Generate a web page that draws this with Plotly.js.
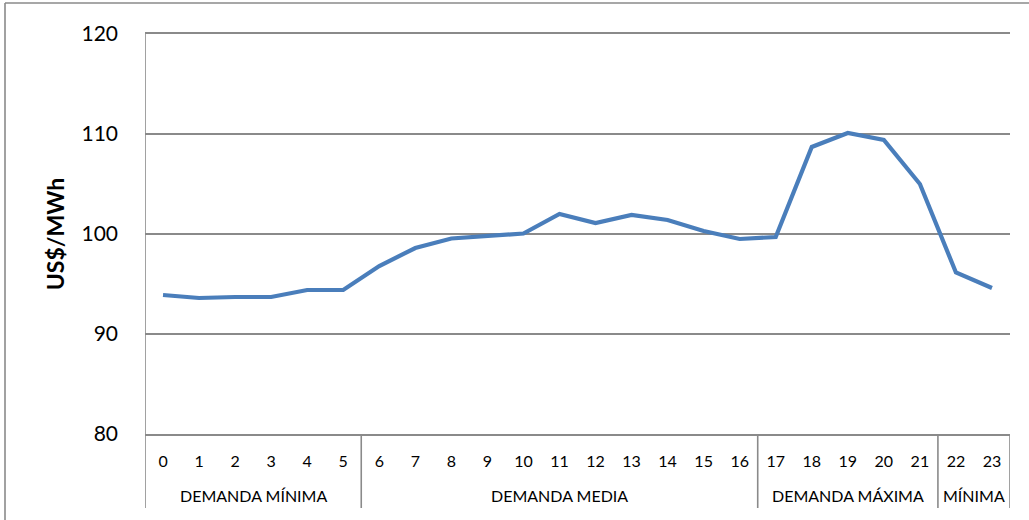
<!DOCTYPE html>
<html><head><meta charset="utf-8">
<script src="https://cdn.plot.ly/plotly-3.0.1.min.js"></script>
<style>body{margin:0;background:#fff}#c{width:1029px;height:520px}</style>
</head><body><div id="c"></div>
<script>
const hours = ["0","1","2","3","4","5","6","7","8","9","10","11","12","13","14","15","16","17","18","19","20","21","22","23"];
const prices = [93.9,93.6,93.7,93.7,94.4,94.4,96.8,98.6,99.55,99.8,100.05,102.0,101.1,101.9,101.4,100.3,99.5,99.7,108.7,110.1,109.4,105.0,96.15,94.6];
const groupNames = ["DEMANDA MÍNIMA","DEMANDA MEDIA","DEMANDA MÁXIMA","MÍNIMA"];
const groupStart = [0,6,17,22];
const groupEnd = [5,16,21,23];
const yTicks = [80,90,100,110,120];

const xs = hours.map((h,i)=>i);
const axisColor = '#8a8a8a';
const lw = 1.6;
const font = 'Lato, "Open Sans", sans-serif';
const PW = 865, PH = 400, T = 34, L = 145;

const shapes = [];
const annotations = [];
// vertical divider lines of the category axis
const divs = [-0.5].concat(groupEnd.map(e=>e+0.5));
divs.forEach(d=>{
  shapes.push({type:'line',xref:'x',yref:'paper',x0:d,x1:d,y0:-74/PH,y1:(d===-0.5?1:0),line:{color:axisColor,width:lw}});
});
groupNames.forEach((g,i)=>{
  annotations.push({xref:'x',yref:'paper',x:(groupStart[i]+groupEnd[i])/2,y:-61/PH,text:g,showarrow:false,
    font:{family:font,size:16,color:'#000'},xanchor:'center',yanchor:'middle'});
});
// outer chart border
const bTop = (T+PH-3)/PH, bLeft = (5-L)/PW;
shapes.push({type:'line',xref:'paper',yref:'paper',x0:bLeft,x1:(1030-L)/PW,y0:bTop,y1:bTop,line:{color:axisColor,width:lw}});
shapes.push({type:'line',xref:'paper',yref:'paper',x0:bLeft,x1:bLeft,y0:bTop,y1:(T+PH-525)/PH,line:{color:axisColor,width:lw}});

Plotly.newPlot('c',[{
  x:xs,y:prices,type:'scatter',mode:'lines',line:{color:'#4a7ebb',width:4.2},hoverinfo:'skip'
}],{
  width:1029,height:520,
  margin:{l:L,r:1029-L-PW,t:T,b:520-T-PH},
  paper_bgcolor:'#fff',plot_bgcolor:'#fff',
  showlegend:false,
  xaxis:{range:[-0.5,23.5],tickvals:xs,ticktext:hours,showgrid:false,zeroline:false,
    showline:true,mirror:true,linecolor:axisColor,linewidth:lw,ticks:'',ticklabelstandoff:12,tickfont:{family:font,size:16,color:'#000'},fixedrange:true},
  yaxis:{range:[80,120],tickvals:yTicks,showgrid:true,gridcolor:axisColor,gridwidth:lw,zeroline:false,
    showline:false,ticks:'',ticklabelstandoff:26,tickfont:{family:font,size:21,color:'#000'},
    title:{text:'<b>US$/MWh</b>',font:{family:font,size:23,color:'#000'},standoff:10},fixedrange:true},
  shapes:shapes,annotations:annotations
},{displayModeBar:false,staticPlot:true});
</script></body></html>
